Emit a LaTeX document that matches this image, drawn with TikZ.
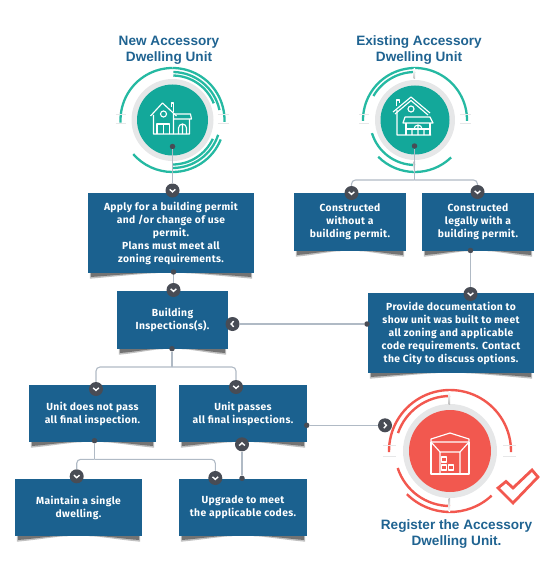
\documentclass[tikz,border=0pt]{standalone}
\usepackage{fontspec}
\setmainfont{Fira Sans}[LetterSpace=3.5]
\newfontfamily\titlefont{Liberation Sans}
\definecolor{boxblue}{HTML}{1B618F}
\definecolor{titleblue}{HTML}{1F6391}
\definecolor{discteal}{HTML}{13A89A}
\definecolor{arcteal}{HTML}{25B9A2}
\definecolor{discred}{HTML}{F2584F}
\definecolor{ringgray}{HTML}{E6E7E8}
\definecolor{linegray}{HTML}{B0BAC5}
\definecolor{badgegray}{HTML}{484C55}
\newcommand{\ringarc}[3]{(#2:#1pt) arc[start angle=#2,end angle=#3,radius=#1pt]}
\newcommand{\boxshadow}[1]{%
  \fill[black!70,opacity=.35] ($(#1.south west)+(2,0)$) -- ++(0,5.5) .. controls +(18,-1.5) and +(-10,0) .. ($(#1.south west)!.42!(#1.south east)$) -- cycle;
  \fill[black!70,opacity=.35] ($(#1.south east)+(-2,0)$) -- ++(0,5.5) .. controls +(-18,-1.5) and +(10,0) .. ($(#1.south east)!.42!(#1.south west)$) -- cycle;
  \fill[black!75,opacity=.6] ($(#1.south west)+(3,0)$) -- ++(0,3.8) .. controls +(14,-1) and +(-8,0) .. ($(#1.south west)!.34!(#1.south east)$) -- cycle;
  \fill[black!75,opacity=.6] ($(#1.south east)+(-3,0)$) -- ++(0,3.8) .. controls +(-14,-1) and +(8,0) .. ($(#1.south east)!.34!(#1.south west)$) -- cycle;
}
\usetikzlibrary{calc}
\begin{document}
\begin{tikzpicture}[x=1pt,y=-1pt,
    stepbox/.style={rectangle,fill=boxblue,text=white,align=center,inner sep=0pt,
      font=\fontsize{10.3}{13}\bfseries},
    title/.style={align=center,text=titleblue,font=\fontsize{13.6}{16.2}\titlefont\bfseries},
    disc/.style={circle,inner sep=0pt,minimum size=#1pt},
    conn/.style={draw=linegray,line width=1.1pt},
    dot/.style={circle,fill=badgegray,inner sep=0pt,minimum size=5.5pt},
    badge/.style={circle,fill=badgegray,inner sep=0pt,minimum size=14pt},
    chevdown/.style={badge,path picture={\draw[white,line width=1.4pt] ($(path picture bounding box.center)+(-2.8,-1.2)$) -- ++(2.8,2.6) -- ++(2.8,-2.6);}},
    chevup/.style={badge,path picture={\draw[white,line width=1.4pt] ($(path picture bounding box.center)+(-2.8,1.2)$) -- ++(2.8,-2.6) -- ++(2.8,2.6);}},
    chevleft/.style={badge,path picture={\draw[white,line width=1.4pt] ($(path picture bounding box.center)+(1.2,-2.8)$) -- ++(-2.6,2.8) -- ++(2.6,2.8);}},
    chevright/.style={badge,path picture={\draw[white,line width=1.4pt] ($(path picture bounding box.center)+(-1.2,-2.8)$) -- ++(2.6,2.8) -- ++(-2.6,2.8);}},
    tealarc/.style={draw=arcteal,line width=2.3pt},
    redarc/.style={draw=discred,line width=2.4pt},
    tick/.style={draw=ringgray,line width=1pt},
    icon/.style={draw=white,line width=1.15pt,line join=round}]
  \useasboundingbox (0,0) rectangle (556,567);

  % titles
  \node[title] (newTitle) at (169,50) {New Accessory\\Dwelling Unit};
  \node[title] (oldTitle) at (419,50) {Existing Accessory\\Dwelling Unit};
  \node[title] (regTitle) at (456.5,534) {Register the Accessory\\Dwelling Unit.};

  % new unit
  \node[disc=82,fill=ringgray] (newRing) at (172.5,120) {};
  \node[disc=71,fill=discteal] (newDisc) at (172.5,120) {};
  \begin{scope}[shift={(172.5,120)}]
    \draw[tealarc] \ringarc{52}{90}{-2};
    \draw[tealarc] \ringarc{52}{90}{183};
    \draw[tealarc] \ringarc{48}{89}{12};
    \draw[tealarc] \ringarc{44.5}{89}{22};
    \draw[tealarc] \ringarc{52}{-22}{-90};
    \draw[tealarc] \ringarc{52}{-90}{-139};
    \draw[tealarc] \ringarc{48}{-18}{-90};
    \draw[tealarc] \ringarc{44.5}{-25}{-90};
    \draw[tick] (-57,-5) -- (-47,-5) (-57,4) -- (-47,4) (45,-5) -- (56,-5) (45,4) -- (56,4);
    % house
    \draw[icon] (-22,-4) -- (-10,-17) -- (4,-4) (-19,-5) -- (-19,14) -- (17,14) -- (17,-1);
    \draw[icon] (-1,-13) -- (-1,-17) -- (1,-17) -- (1,-8);
    \draw[icon] (-9,-6) circle (3);
    \draw[icon] (-15.5,14) -- (-15.5,4) -- (-3,4) -- (-3,14) (-9.3,4) -- (-9.3,14);
    \draw[icon] (1,-6) -- (18,-6) -- (19,-1) -- (1,-1) (1,-6) -- (1,14);
    \draw[icon] (6,14) -- (6,8) arc[start angle=180,end angle=0,radius=4pt] -- (14,14) (10,4) -- (10,14);
  \end{scope}

  % existing unit
  \node[disc=80,fill=ringgray] (oldRing) at (415,120) {};
  \node[disc=69,fill=discteal] (oldDisc) at (415,120) {};
  \begin{scope}[shift={(415,120)}]
    \draw[tealarc] \ringarc{52}{90}{-1};
    \draw[tealarc] \ringarc{52}{90}{181};
    \draw[tealarc] \ringarc{48}{90}{150};
    \draw[tealarc] \ringarc{45}{197}{270};
    \draw[tealarc] \ringarc{52}{225}{314};
    \shade[top color=white,bottom color=black!25] (-1.5,-51) rectangle (0,-41);
    \shade[bottom color=white,top color=black!25] (-1.5,41) rectangle (0,51);
    \draw[tick] (-56,-5) -- (-46,-5) (-56,4) -- (-46,4) (45,-5) -- (56,-5) (45,4) -- (56,4);
    % house
    \draw[icon] (-22,-8) -- (-4,-23) -- (15,-7) (-20,-6) -- (-4,-19.5) -- (13,-5);
    \draw[icon] (-18.5,-14) -- (-18.5,-20) -- (-15.5,-20) -- (-15.5,-16.5);
    \draw[icon] (-18,-10) -- (-18,15) -- (16,15) (-4,-11) circle (3);
    \draw[icon] (-10,-3) -- (15,-3) -- (18,3) -- (-12,3) -- cycle;
    \draw[icon] (-9,3) -- (-9,15) (15,3) -- (15,15) (-9,9) -- (15,9);
    \draw[icon] (-3,15) -- (-3,9) (9,15) -- (9,9) (3,15) -- (3,5) (-1,9) arc[start angle=180,end angle=0,radius=4pt];
  \end{scope}

  % register
  \node[disc=94,fill=ringgray] (regRing) at (450,451) {};
  \node[disc=82,fill=discred] (regDisc) at (450,451) {};
  \begin{scope}[shift={(450,451)}]
    \draw[redarc] \ringarc{61}{90}{-1};
    \draw[redarc] \ringarc{61}{90}{181};
    \draw[redarc] \ringarc{55}{90}{161};
    \draw[redarc] \ringarc{55}{198}{270};
    \draw[redarc] \ringarc{61}{225}{313};
    \shade[top color=white,bottom color=black!25] (-1.5,-60) rectangle (0,-47);
    \shade[bottom color=white,top color=black!25] (-1.5,47) rectangle (0,60);
    \draw[tick] (-67,-5.5) -- (-54,-5.5) (-67,5.5) -- (-54,5.5) (53,-5.5) -- (66,-5.5) (53,5.5) -- (66,5.5);
    % store
    \draw[icon] (-19,-9) -- (-19,-12) -- (0,-18) -- (19,-12) -- (19,-9) -- cycle;
    \draw[icon] (-19,-9) -- (-19,23) -- (19,23) -- (19,-9);
    \draw[icon] (-19,-9) -- (-10,1) -- (10,1) -- (19,-9) (-10,1) -- (-10,23) (10,1) -- (10,23);
    \draw[icon] (-8.5,6) rectangle (-3.5,11) (-8.5,14) rectangle (-3.5,19) (-1.5,14) rectangle (3.5,19);
  \end{scope}
  \draw[discred,line width=2.8pt,line join=miter] (498,488) -- (506,481.5) -- (513,488) -- (532,470) -- (538,477) -- (513,503) -- cycle;

  % boxes
  \node[stepbox,minimum width=166pt,minimum height=80pt] (apply) at (171,233) {Apply for a building permit\\and /or change of use\\permit.\\Plans must meet all\\zoning requirements.};
  \node[stepbox,minimum width=111pt,minimum height=58pt] (insp) at (172.5,320) {Building\\Inspections(s).};
  \node[stepbox,minimum width=112pt,minimum height=58pt] (without) at (350,222) {Constructed\\without a\\building permit.};
  \node[stepbox,minimum width=112pt,minimum height=58pt] (legal) at (478,222) {Constructed\\legally with a\\building permit.};
  \node[stepbox,minimum width=166pt,minimum height=80pt] (provide) at (451,333) {Provide documentation to\\show unit was built to meet\\all zoning and applicable\\code requirements. Contact\\the City to discuss options.};
  \node[stepbox,minimum width=127pt,minimum height=57pt] (fail) at (92.5,413.5) {Unit does not pass\\all final inspection.};
  \node[stepbox,minimum width=128pt,minimum height=57pt] (pass) at (243,413.5) {Unit passes\\all final inspections.};
  \node[stepbox,minimum width=127pt,minimum height=57pt] (single) at (78.5,507.5) {Maintain a single\\dwelling.};
  \node[stepbox,minimum width=128pt,minimum height=57pt] (upgrade) at (243,507.5) {Upgrade to meet\\the applicable codes.};
  \boxshadow{apply}
  \boxshadow{insp}
  \boxshadow{without}
  \boxshadow{legal}
  \boxshadow{provide}
  \boxshadow{fail}
  \boxshadow{pass}
  \boxshadow{single}
  \boxshadow{upgrade}

  % dots and badges
  \node[dot] (newDot) at (172.5,146.5) {};
  \node[chevdown] (applyIn) at (172.5,190.5) {};
  \node[dot] (applyOut) at (173.5,272) {};
  \node[chevdown] (inspIn) at (173.5,290) {};
  \node[chevleft] (inspSide) at (232.5,324) {};
  \node[dot] (inspOut) at (172,348.7) {};
  \node[dot] (oldDot) at (414.5,146) {};
  \coordinate (oldFork) at (414.5,180);
  \node[chevdown] (withoutIn) at (351.5,193) {};
  \node[chevdown] (legalIn) at (477.5,192) {};
  \node[dot] (legalOut) at (470.5,250.5) {};
  \node[chevdown] (provideIn) at (470.5,294) {};
  \node[dot] (provideOut) at (367,324) {};
  \coordinate (inspFork) at (172,367);
  \node[chevdown] (failIn) at (96,389) {};
  \node[chevdown] (passIn) at (236,387) {};
  \node[dot] (failOut) at (94.5,440.7) {};
  \coordinate (failFork) at (94.5,459.3);
  \node[chevdown] (singleIn) at (76.7,476.3) {};
  \node[chevdown] (upgradeIn) at (215.3,478) {};
  \node[chevup] (passBack) at (242,444.3) {};
  \node[dot] (upgradeOut) at (242,478.3) {};
  \node[dot] (passOut) at (306.7,425.3) {};
  \node[chevright] (regIn) at (385,425.3) {};

  % connectors
  \draw[conn] (newDot) -- (applyIn);
  \draw[conn] (applyOut) -- (inspIn);
  \draw[conn] (provideOut) -- (inspSide);
  \draw[conn] (legalOut) -- (provideIn);
  \draw[conn] (upgradeOut) -- (passBack);
  \draw[conn] (passOut) -- (regIn);
  \draw[conn] (oldDot) -- (oldFork);
  \draw[conn,rounded corners=4pt] (oldFork) -| (withoutIn);
  \draw[conn,rounded corners=4pt] (oldFork) -| (legalIn);
  \draw[conn] (inspOut) -- (inspFork);
  \draw[conn,rounded corners=4pt] (inspFork) -| (failIn);
  \draw[conn,rounded corners=4pt] (inspFork) -| (passIn);
  \draw[conn] (failOut) -- (failFork);
  \draw[conn,rounded corners=4pt] (failFork) -| (singleIn);
  \draw[conn,rounded corners=4pt] (failFork) -| (upgradeIn);
\end{tikzpicture}
\end{document}
